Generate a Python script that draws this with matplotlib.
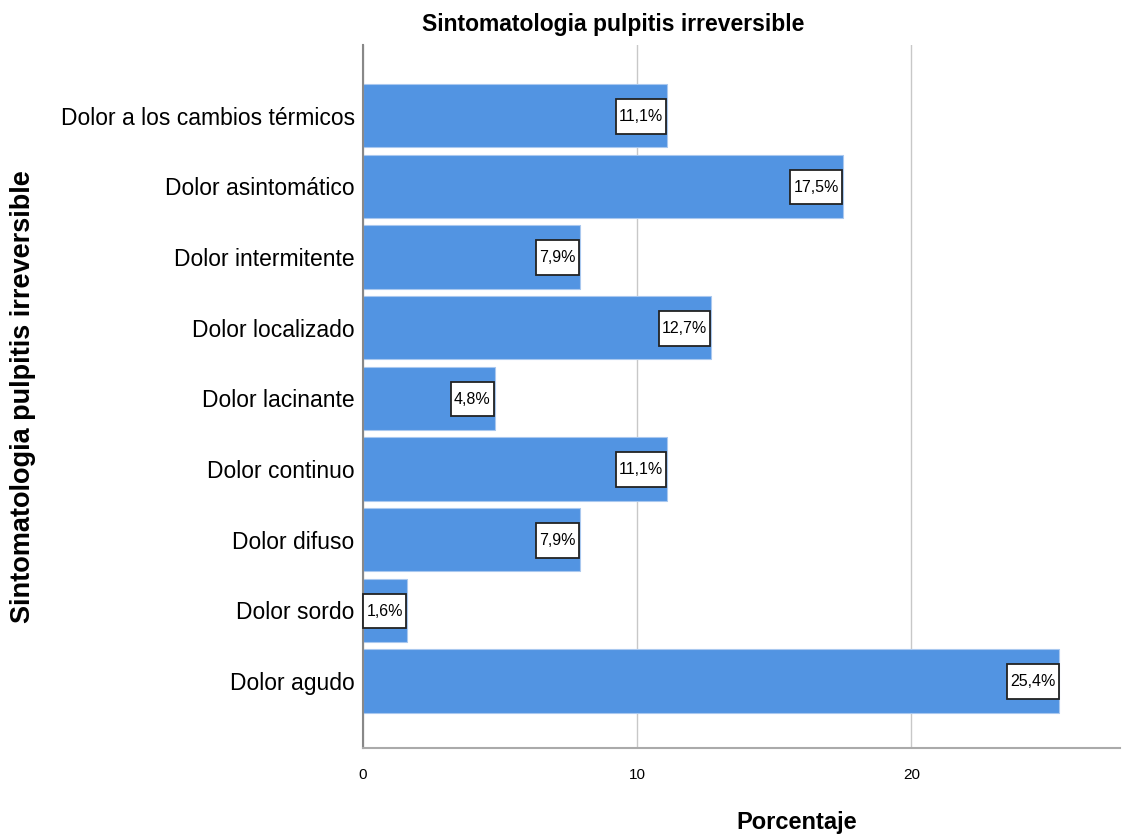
import matplotlib.pyplot as plt
from matplotlib.path import Path

categorias = ["Dolor a los cambios térmicos", "Dolor asintomático", "Dolor intermitente",
              "Dolor localizado", "Dolor lacinante", "Dolor continuo", "Dolor difuso",
              "Dolor sordo", "Dolor agudo"]
porcentajes = [11.1, 17.5, 7.9, 12.7, 4.8, 11.1, 7.9, 1.6, 25.4]
etiquetas = ["11,1%", "17,5%", "7,9%", "12,7%", "4,8%", "11,1%", "7,9%", "1,6%", "25,4%"]
xticks = [0, 10, 20]

plt.rcParams['font.family'] = ['Liberation Sans', 'DejaVu Sans']

PAD_X = 0.2
PAD_Y = 0.62


# caja con margen horizontal y vertical distintos
def caja(x0, y0, width, height, mutation_size):
    px = PAD_X * mutation_size
    py = PAD_Y * mutation_size
    return Path([(x0 - px, y0 - py), (x0 + width + px, y0 - py),
                 (x0 + width + px, y0 + height + py), (x0 - px, y0 + height + py),
                 (x0 - px, y0 - py)], closed=True)


fig = plt.figure(figsize=(11.22, 8.34), dpi=100)
ax = fig.add_axes([0.3235, 0.103, 0.6745, 0.843])

pos = list(range(len(categorias)))
ax.barh(pos, porcentajes, height=0.9, color='#5294e2', edgecolor='#a9c8ef', linewidth=0.8, zorder=2)

fs_lab = 11.5
for y, v, t in zip(pos, porcentajes, etiquetas):
    ax.annotate(t, xy=(v, y), xytext=(-PAD_X * fs_lab - 0.6, -0.5), textcoords='offset points',
                ha='right', va='center', fontsize=fs_lab, zorder=4,
                bbox=dict(boxstyle=caja, fc='white', ec='#222222', lw=1.3))

ax.set_ylim(len(categorias) - 0.05, -1)
ax.set_xlim(0, 27.6)
ax.set_xticks(xticks)
ax.set_xticklabels([str(x) for x in xticks], fontsize=11)
ax.set_yticks(pos)
ax.set_yticklabels(categorias, fontsize=16.5)
ax.tick_params(length=0, pad=6)
ax.tick_params(axis='x', pad=14)

ax.grid(axis='x', color='#c8c8c8', lw=1, zorder=0)
ax.set_axisbelow(True)
for s in ['top', 'right']:
    ax.spines[s].set_visible(False)
ax.spines['left'].set_color('#888888')
ax.spines['bottom'].set_color('#aaaaaa')
ax.spines['left'].set_linewidth(1.5)
ax.spines['bottom'].set_linewidth(1.5)

fig.text(613 / 1122, 1 - 24 / 834, "Sintomatologia pulpitis irreversible",
         fontsize=16.5, fontweight='bold', ha='center', va='center')
fig.text(797 / 1122, 1 - 822 / 834, "Porcentaje",
         fontsize=17, fontweight='bold', ha='center', va='center')
fig.text(23 / 1122, 1 - 397 / 834, "Sintomatologia pulpitis irreversible",
         fontsize=19.5, fontweight='bold', ha='center', va='center', rotation=90)

fig.savefig('out.png', dpi=100)
